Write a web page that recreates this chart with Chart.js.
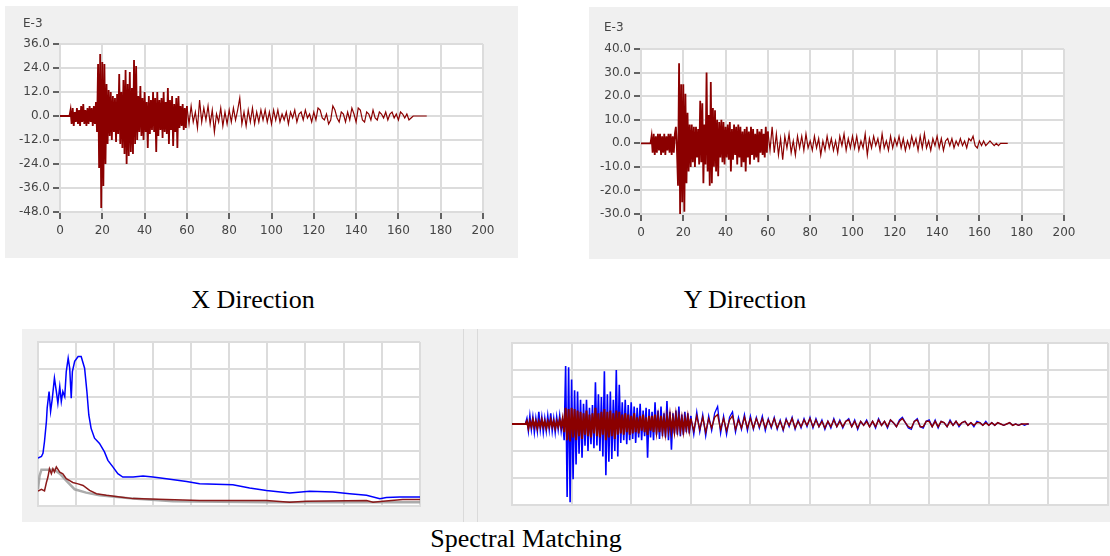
<!DOCTYPE html>
<html>
<head>
<meta charset="utf-8">
<script src="https://cdn.jsdelivr.net/npm/chart.js@4/dist/chart.umd.min.js"></script>
<style>
    body { margin: 0; background: #fff; width: 1110px; height: 556px; position: relative; overflow: hidden; }
    .panel { position: absolute; background: #f0f0f0; }
    .panel canvas { position: absolute; left: 0; top: 0; }
    .unit { position: absolute; font: 12px "DejaVu Sans", sans-serif; color: #444; }
    .caption { position: absolute; font: 26px "Liberation Serif", "Times New Roman", serif; line-height: 26px; color: #000; white-space: nowrap; transform: translateX(-50%); }
    .divider { position: absolute; left: 463px; top: 329px; width: 13px; height: 193px; background: #f0f0f0; border-left: 1px solid #dadada; border-right: 1px solid #dadada; }
</style>
</head>
<body>
<div class="panel" style="left:5px;top:6px;width:513px;height:252px"><canvas id="xDir" width="513" height="252"></canvas></div>
<div class="unit" style="left:23px;top:16px">E-3</div>
<div class="panel" style="left:589px;top:7px;width:521px;height:252px"><canvas id="yDir" width="521" height="252"></canvas></div>
<div class="unit" style="left:604px;top:20px">E-3</div>
<div class="caption" style="left:253px;top:287px">X Direction</div>
<div class="caption" style="left:745px;top:287px">Y Direction</div>
<div class="panel" style="left:22px;top:329px;width:441px;height:193px"><canvas id="spectra" width="441" height="193"></canvas></div>
<div class="divider"></div>
<div class="panel" style="left:478px;top:329px;width:632px;height:193px"><canvas id="matched" width="632" height="193"></canvas></div>
<div class="caption" style="left:526px;top:526px">Spectral Matching</div>

<script>
// time axis pieces (seconds): quiet start, strong motion, coda
const quietFrom = 4.5, quietTo = 17, quietStep = 0.5;
const strongFrom = 17.5, strongTo = 60, strongStep = 0.5;
const codaFrom = 61, codaTo = 173, codaStep = 1;
const timeTicks = [0, 20, 40, 60, 80, 100, 120, 140, 160, 180, 200];

// X direction acceleration (E-3)
const xQuiet = [0, 3, -4, 4, -5, 2, -3, 4, -4, 3, -5, 5, -3, 6, -4, 3, -5, 4, -4, 5, -3, 4, -5, 5, -4, 7];
const xStrong = [
    -8, 26, -26, 31, -46, 27, -35, 26, -24, 16,
    -14, 13, -10, 12, -12, 10, -8, 9, -13, 11,
    -9, 21, -14, 12, -16, 18, -19, 23, -24, 16,
    -20, 22, -18, 14, -19, 28, -14, 25, -12, 10,
    -8, 15, -10, 9, -12, 12, -8, 7, -16, 10,
    -9, 8, -7, 12, -8, 9, -18, 12, -10, 8,
    -7, 9, -11, 12, -8, 7, -9, 14, -14, 8,
    -7, 10, -15, 6, -8, 9, -16, 10, -6, 5,
    -5, 6, -7, 4, -6, 5
];
const xCoda = [
    -4, 5, -3, 2, -6, 8, -3, 4, -2, 5, -4, 3, -8, 1, -3, 4, -5, 2, -4, 3,
    -3, 4, -2, 3, 9, -4, 2, -5, 3, -3, 4, -4, 2, -3, 3, -2, 3, -3, 2, -4,
    3, -2, 3, -3, 1, -2, 2, -4, 2, -1, 3, -3, 1, 2, -2, 3, -1, 1, -3, 2,
    -2, 4, 3, -1, -2, 1, -4, -2, 5, 3, -1, -3, 2, 1, -3, 2, -2, 4, 1, -3,
    4, 3, -2, -3, 2, 1, -2, 3, -1, -2, 2, 1, -1, 2, -2, 1, 2, -1, 1, -2,
    2, 1, -1, 1, -2, -1, 0, 0, 0, 0, 0, 0, 0
];

// Y direction acceleration (E-3)
const yQuiet = [0, 3, -4, 4, -5, 3, -4, 4, -3, 4, -5, 3, -4, 4, -5, 3, -3, 4, -4, 4, -5, 3, -4, 4, 7, -3];
const yStrong = [
    -18, 34, -30, 25, -25, 25, -29, 21, -17, 13,
    -12, 8, -10, 8, -8, 7, -10, 7, -6, 6,
    -9, 18, -8, 17, -17, 8, -9, 30, -12, 12,
    -18, 26, -17, 15, -10, 14, -12, 10, -14, 9,
    -6, 10, -8, 9, -9, 7, -6, 8, -7, 9,
    -12, 6, -7, 8, -5, 7, -9, 8, -6, 7,
    -10, 5, -8, 6, -12, 7, -6, 5, -9, 7,
    -5, 6, -7, 4, -6, 6, -8, 5, -4, 6,
    -5, 4, -6, 7, -4, 5
];
const yCoda = [
    -3, 7, -4, 4, -5, 2, -7, 3, -2, 4, -4, 1, -5, 3, -2, 3, -3, 4, -2, 1,
    -3, 3, -2, 2, -5, 1, -3, 3, -2, 2, -3, 1, -4, 3, -1, 4, -3, 2, -2, 3,
    -2, 3, -3, 1, -2, 4, -5, 2, -2, 3, -1, 2, -3, 4, -2, 1, -3, 3, -2, 2,
    -1, 3, -2, 2, -3, 1, -2, 3, -1, 2, -3, 3, -2, 4, -2, 1, -3, 2, -1, 3,
    -2, 2, -3, 1, 2, -1, 2, -2, 1, -1, 2, -1, 1, -2, 2, 1, 3, -1, -2, 1,
    -1, 1, -1, 0, 1, 0, -1, 0, -1, 0, 0, 0, 0
];

// spectral matching, time history: original (blue) and matched (red), E-3
const origQuiet = [0, 4, -5, 6, -4, 5, -6, 4, -5, 9, -4, 5, -6, 4, -5, 6, -4, 8, -5, 4, -6, 5, -4, 6, -5, 4];
const origStrong = [
    -12, 43, -54, 42, -58, 33, -41, 25, -30, 24,
    -22, 18, -25, 15, -16, 18, -20, 12, -15, 14,
    -18, 31, -16, 22, -20, 20, -24, 39, -38, 22,
    -28, 24, -26, 18, -20, 40, -24, 29, -14, 16,
    -12, 18, -15, 14, -12, 16, -11, 13, -14, 12,
    -10, 15, -12, 10, -9, 12, -25, 11, -10, 9,
    -12, 16, -8, 10, -11, 13, -9, 8, -10, 17,
    -12, 9, -19, 8, -7, 10, -8, 13, -9, 7,
    -8, 9, -6, 8, -7, 6
];
const origCoda = [
    -8, 9, -6, 7, -9, 6, -5, 8, 13, -7, 6, -8, 5, 9, -6, 5, -4, 7, -5, 6,
    -4, 5, -3, 6, -5, 4, -3, 5, -4, 3, -5, 4, -2, 5, -4, 3, -3, 4, -2, 5,
    -3, 4, -2, 3, -4, 2, -3, 4, -2, 3, -3, 2, 4, -2, 3, -4, 2, -1, 3, -2,
    2, -3, 4, -1, 2, -3, 3, 1, -2, 3, 5, 1, -3, -4, 2, 4, -2, -3, 2, 3,
    -2, 3, -3, 2, 1, -2, 3, -1, 2, -2, 1, 2, -1, 1, -2, 2, 1, -1, 2, -1,
    1, -1, 1, 0, -1, 0, 1, -1, 0, -1, 0, -1, 0
];
const matchQuiet = [0, 2, -3, 2, -2, 3, -2, 2, -3, 2, -2, 3, -2, 2, -3, 2, -2, 3, -2, 2, -3, 2, -2, 3, -2, 4];
const matchStrong = [
    -6, 12, -12, 11, -13, 12, -10, 11, -12, 10,
    -9, 9, -11, 8, -8, 10, -9, 7, -10, 8,
    -7, 12, -9, 8, -10, 9, -8, 11, -12, 9,
    -10, 10, -9, 8, -11, 10, -8, 9, -7, 7,
    -8, 8, -6, 7, -8, 6, -7, 8, -6, 5,
    -7, 6, -5, 7, -6, 5, -8, 6, -5, 6,
    -6, 7, -5, 5, -6, 6, -5, 4, -6, 5,
    -4, 6, -5, 4, -5, 6, -4, 5, -4, 4,
    -5, 4, -3, 5, -4, 4
];
const matchCoda = [
    -5, 6, -4, 5, -6, 4, -3, 5, 7, -4, 4, -5, 3, 6, -4, 3, -3, 5, -3, 4,
    -3, 4, -2, 4, -3, 3, -2, 4, -3, 2, -4, 3, -1, 4, -3, 2, -2, 3, -1, 4,
    -2, 3, -2, 2, -3, 2, -2, 3, -2, 2, -2, 2, 3, -2, 2, -3, 2, -1, 2, -2,
    2, -2, 3, -1, 2, -2, 3, 1, -2, 2, 4, 1, -2, -3, 2, 3, -2, -2, 2, 2,
    -2, 2, -2, 2, 1, -2, 2, -1, 2, -1, 1, 2, -1, 1, -1, 1, 1, -1, 1, -1,
    1, -1, 1, 0, -1, 0, 1, -1, 0, -1, 0, 0, 0
];

// spectra (period on 10 grid columns, ordinate on 6 grid rows)
const specTargetX = [0, 0.04, 0.09, 0.43, 0.57, 0.74, 0.96, 1.26, 1.61, 2.49, 3.54, 5.98, 10];
const specTarget = [0.61, 1.10, 1.33, 1.33, 1.18, 0.93, 0.61, 0.49, 0.39, 0.27, 0.17, 0.14, 0.14];
const specOrigX = [0, 0.09, 0.13, 0.17, 0.22, 0.24, 0.29, 0.33, 0.37, 0.43, 0.48, 0.52, 0.57, 0.61, 0.65, 0.70, 0.74, 0.79, 0.83, 0.87, 0.90, 0.96, 1.05, 1.13, 1.22, 1.28, 1.33, 1.39, 1.48, 1.61, 1.74, 1.83, 1.96, 2.09, 2.22, 2.49, 2.75, 3.01, 3.36, 3.89, 4.23, 5.10, 5.54, 5.98, 6.59, 7.11, 7.72, 8.16, 8.60, 8.95, 9.12, 9.47, 10];
const specOrig = [1.75, 1.81, 1.93, 2.36, 3.09, 3.58, 4.19, 3.46, 3.88, 4.68, 4.19, 3.76, 4.37, 3.82, 4.19, 4.00, 4.92, 5.41, 5.04, 3.94, 4.92, 5.29, 5.47, 5.47, 5.04, 4.19, 3.33, 2.84, 2.48, 2.29, 1.98, 1.67, 1.43, 1.18, 1.06, 1.06, 1.10, 1.06, 1.00, 0.90, 0.81, 0.78, 0.66, 0.57, 0.48, 0.54, 0.51, 0.45, 0.39, 0.27, 0.31, 0.33, 0.33];
const specMatchX = [0, 0.09, 0.17, 0.22, 0.26, 0.30, 0.35, 0.39, 0.43, 0.48, 0.57, 0.65, 0.74, 0.83, 0.91, 1.05, 1.18, 1.35, 1.53, 1.79, 2.14, 2.49, 3.36, 4.23, 5.98, 6.59, 7.02, 8.60, 8.77, 9.03, 9.55, 10];
const specMatch = [0.55, 0.61, 0.55, 0.86, 1.06, 1.36, 1.18, 1.36, 1.24, 1.43, 1.24, 1.18, 1.00, 0.93, 0.86, 0.81, 0.75, 0.57, 0.45, 0.39, 0.33, 0.27, 0.24, 0.20, 0.20, 0.14, 0.17, 0.20, 0.14, 0.17, 0.24, 0.24];

const darkRed = '#8b0000';
const gridColor = '#dcdcdc';

function seq(from, to, step) {
    let out = [];
    for (let t = from; t <= to + 1e-9; t += step) out.push(+t.toFixed(2));
    return out;
}

function zip(xs, ys) {
    let pts = [];
    for (let i = 0; i < Math.min(xs.length, ys.length); i++) pts.push({x: xs[i], y: ys[i]});
    return pts;
}

function record(quiet, strong, coda) {
    return [{x: 0, y: 0}, {x: 4, y: 0}]
        .concat(zip(seq(quietFrom, quietTo, quietStep), quiet))
        .concat(zip(seq(strongFrom, strongTo, strongStep), strong))
        .concat(zip(seq(codaFrom, codaTo, codaStep), coda))
        .concat([{x: 173.4, y: 0}]);
}

const plotBg = {
    id: 'plotBg',
    beforeDraw(chart) {
        const {ctx, chartArea: a} = chart;
        ctx.save();
        ctx.fillStyle = '#ffffff';
        ctx.fillRect(a.left, a.top, a.width, a.height);
        ctx.restore();
    }
};

Chart.defaults.font.family = '"DejaVu Sans", sans-serif';
Chart.defaults.font.size = 12;
Chart.defaults.color = '#444';

function line(data, color, width) {
    return {data: data, borderColor: color, borderWidth: width, pointRadius: 0, tension: 0, fill: false,
        borderJoinStyle: 'miter'};
}

// records: dense strong-motion part drawn heavier than the coda
function trace(data, color, strongWidth, codaWidth) {
    let ds = line(data, color, strongWidth);
    ds.segment = {borderWidth: (c) => c.p0.parsed.x >= strongTo ? codaWidth : strongWidth};
    return ds;
}

function accelChart(id, datasets, opts) {
    return new Chart(document.getElementById(id), {
        type: 'line',
        data: {datasets: datasets},
        plugins: [plotBg],
        options: {
            responsive: false,
            animation: false,
            devicePixelRatio: 1,
            layout: {padding: {left: 0, top: opts.top, right: opts.right, bottom: 0}},
            plugins: {legend: {display: false}, tooltip: {enabled: false}},
            scales: {
                x: {
                    type: 'linear', min: 0, max: 200,
                    afterBuildTicks: (s) => { s.ticks = timeTicks.map(v => ({value: v})); },
                    afterFit: (s) => { s.height = opts.xh; },
                    grid: {color: gridColor, lineWidth: 2, tickColor: '#333', tickLength: 7, tickWidth: 1.5},
                    border: {color: gridColor, width: 2},
                    ticks: {padding: 5, maxRotation: 0}
                },
                y: {
                    min: opts.min, max: opts.max,
                    afterFit: (s) => { s.width = opts.yw; },
                    grid: {color: gridColor, lineWidth: 2, tickColor: '#333', tickLength: 7, tickWidth: 1.5},
                    border: {color: gridColor, width: 2},
                    ticks: {stepSize: opts.step, padding: 3, callback: (v) => v.toFixed(1)}
                }
            }
        }
    });
}

accelChart('xDir', [trace(record(xQuiet, xStrong, xCoda), darkRed, 1.8, 1.2)],
    {min: -48, max: 36, step: 12, top: 38, right: 35, xh: 46, yw: 55});
accelChart('yDir', [trace(record(yQuiet, yStrong, yCoda), darkRed, 1.8, 1.2)],
    {min: -30, max: 40, step: 10, top: 42, right: 46, xh: 45, yw: 52});

function bareChart(id, datasets, opts) {
    return new Chart(document.getElementById(id), {
        type: 'line',
        data: {datasets: datasets},
        plugins: [plotBg],
        options: {
            responsive: false,
            animation: false,
            devicePixelRatio: 1,
            layout: {padding: {left: 0, top: opts.top, right: opts.right, bottom: 0}},
            plugins: {legend: {display: false}, tooltip: {enabled: false}},
            scales: {
                x: {
                    type: 'linear', min: opts.xmin, max: opts.xmax,
                    afterFit: (s) => { s.height = opts.xh; },
                    grid: {color: gridColor, lineWidth: 2, drawTicks: false},
                    border: {color: gridColor, width: 2},
                    ticks: {display: false, stepSize: opts.xstep}
                },
                y: {
                    min: opts.ymin, max: opts.ymax,
                    afterFit: (s) => { s.width = opts.yw; },
                    grid: {color: gridColor, lineWidth: 2, drawTicks: false},
                    border: {color: gridColor, width: 2},
                    ticks: {display: false, stepSize: opts.ystep}
                }
            }
        }
    });
}

bareChart('spectra', [
    line(zip(specMatchX, specMatch), '#8b1a1a', 1.5),
    line(zip(specTargetX, specTarget), 'rgba(150,150,150,0.8)', 2.5),
    line(zip(specOrigX, specOrig), '#0000ff', 1.5)
], {xmin: 0, xmax: 10, xstep: 1, ymin: 0, ymax: 6, ystep: 1, top: 13, right: 43, xh: 16, yw: 16});

// matched record drawn on top of the original one
bareChart('matched', [
    trace(record(matchQuiet, matchStrong, matchCoda), darkRed, 2, 1.4),
    trace(record(origQuiet, origStrong, origCoda), '#0000ff', 1.6, 1.3)
], {xmin: 0, xmax: 200, xstep: 20, ymin: -60, ymax: 60, ystep: 20, top: 14, right: 2, xh: 17, yw: 34});
</script>
</body>
</html>
